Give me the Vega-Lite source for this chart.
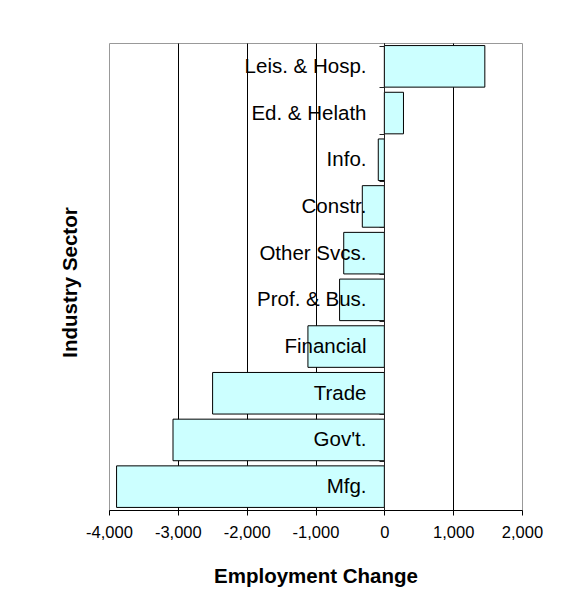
{
  "$schema": "https://vega.github.io/schema/vega-lite/v6.json",
  "autosize": {"type": "none"},
  "width": 413,
  "height": 467,
  "padding": {"left": 109, "top": 43, "right": 44, "bottom": 106},
  "background": "white",
  "config": {
    "font": "Liberation Sans",
    "view": {"stroke": "#999999", "strokeWidth": 1}
  },
  "data": {
    "values": [
      {"sector": "Leis. & Hosp.", "change": 1460},
      {"sector": "Ed. & Helath", "change": 278},
      {"sector": "Info.", "change": -88},
      {"sector": "Constr.", "change": -320},
      {"sector": "Other Svcs.", "change": -590},
      {"sector": "Prof. & Bus.", "change": -650},
      {"sector": "Financial", "change": -1110},
      {"sector": "Trade", "change": -2495},
      {"sector": "Gov't.", "change": -3070},
      {"sector": "Mfg.", "change": -3890}
    ]
  },
  "mark": {"type": "bar", "fill": "#CCFFFF", "stroke": "#000000", "strokeWidth": 1},
  "encoding": {
    "y": {
      "field": "sector",
      "type": "nominal",
      "sort": ["Leis. & Hosp.", "Ed. & Helath", "Info.", "Constr.", "Other Svcs.", "Prof. & Bus.", "Financial", "Trade", "Gov't.", "Mfg."],
      "scale": {"paddingInner": 0.11, "paddingOuter": 0.055},
      "axis": {
        "title": "Industry Sector",
        "titleFont": "Liberation Sans",
        "titleFontSize": 20.5,
        "titleFontWeight": "bold",
        "titleColor": "#000000",
        "titleX": -304,
        "titleY": 239,
        "offset": -275,
        "zindex": 1,
        "domainColor": "#222222",
        "domainWidth": 1,
        "tickBand": "extent",
        "tickColor": "#222222",
        "tickSize": 5,
        "labelFont": "Liberation Sans",
        "labelFontSize": 20.5,
        "labelColor": "#000000",
        "labelPadding": 13,
        "labelLimit": 300,
        "grid": false
      }
    },
    "x": {
      "field": "change",
      "type": "quantitative",
      "scale": {"domain": [-4000, 2000], "nice": false, "zero": false},
      "axis": {
        "title": "Employment Change",
        "titleFont": "Liberation Sans",
        "titleFontSize": 20.5,
        "titleFontWeight": "bold",
        "titleColor": "#000000",
        "titlePadding": 26,
        "values": [-4000, -3000, -2000, -1000, 0, 1000, 2000],
        "labelExpr": "replace(format(datum.value, ','), '\u2212', '-')",
        "labelFont": "Liberation Sans",
        "labelFontSize": 16.5,
        "labelColor": "#000000",
        "labelPadding": 9,
        "labelFlush": false,
        "labelOverlap": false,
        "domainColor": "#000000",
        "tickColor": "#000000",
        "tickSize": 5,
        "grid": true,
        "gridColor": {"condition": {"test": "datum.value === -4000 || datum.value === 2000", "value": "transparent"}, "value": "#000000"},
        "gridOpacity": 1,
        "gridWidth": 1
      }
    }
  }
}
